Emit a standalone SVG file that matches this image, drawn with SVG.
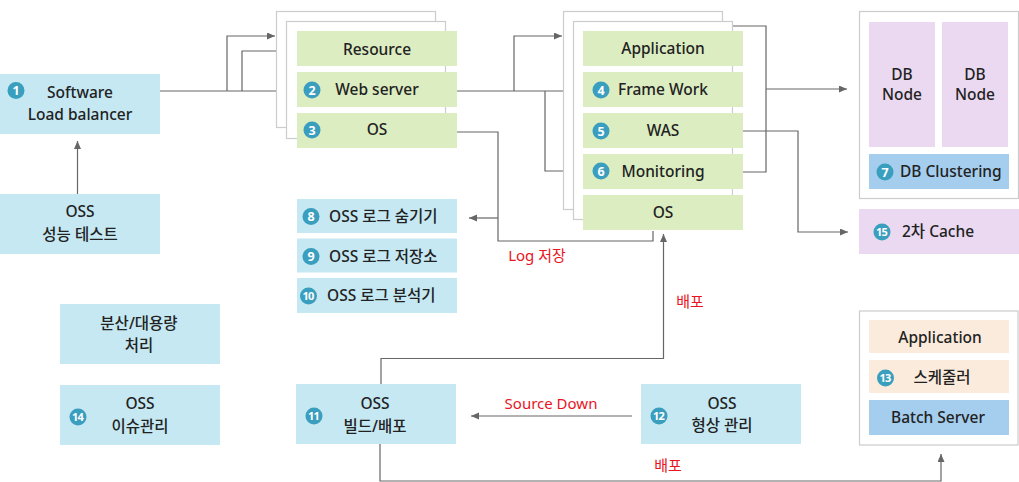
<svg xmlns="http://www.w3.org/2000/svg" width="1019" height="482" viewBox="0 0 1019 482">
<defs>
<marker id="arr" markerUnits="userSpaceOnUse" markerWidth="9" markerHeight="8" refX="8" refY="3.5" orient="auto">
<path d="M0,0 L8,3.5 L0,7 z" fill="#666"/>
</marker>
<style>
.t{font-family:"Noto Sans","Noto Sans CJK KR",sans-serif;font-size:15.5px;font-weight:500;fill:#222;text-anchor:middle}
.s{text-anchor:start}
.r{font-family:"Noto Sans","Noto Sans CJK KR",sans-serif;font-size:15px;fill:#e8141e;text-anchor:middle}
.lb{fill:#c5e8f3}
.gr{fill:#dcedc1}
.pu{fill:#ead9f0}
.be{fill:#fbebdc}
.bl{fill:#a4cdee}
.fr{fill:#fff;stroke:#cccccc;stroke-width:1.2}
.bd{fill:#3a9ebf}
.bn{font-family:"Noto Sans",sans-serif;font-size:12.5px;font-weight:bold;fill:#fff;text-anchor:middle}
.bn2{font-family:"Noto Sans",sans-serif;font-size:11px;font-weight:bold;fill:#fff;text-anchor:middle;letter-spacing:-0.8px}
.c{fill:none;stroke:#666;stroke-width:1.2}
</style>
</defs>

<g id="connectors">
<path class="c" d="M160,91 H296" marker-end="url(#arr)"/>
<path class="c" d="M227,91 V36 H275" marker-end="url(#arr)"/>
<path class="c" d="M242,91 V51 H289" marker-end="url(#arr)"/>
<path class="c" d="M77.5,194 V141" marker-end="url(#arr)"/>
<path class="c" d="M457,91 H581" marker-end="url(#arr)"/>
<path class="c" d="M514,91 V36 H562" marker-end="url(#arr)"/>
<path class="c" d="M545,91 V171 H586" marker-end="url(#arr)"/>
<path class="c" d="M732,26 H766 V172 H743"/>
<path class="c" d="M766,89 H847" marker-end="url(#arr)"/>
<path class="c" d="M743,131 H798 V232 H848" marker-end="url(#arr)"/>
<path class="c" d="M457,132 H498 V241 H653 V231"/>
<path class="c" d="M498,218 H469" marker-end="url(#arr)"/>
<path class="c" d="M381,384 V358.5 H663.5 V234" marker-end="url(#arr)"/>
<path class="c" d="M632,416 H471" marker-end="url(#arr)"/>
<path class="c" d="M380,444 V481 H941 V454" marker-end="url(#arr)"/>
<text class="r" x="537" y="261">Log 저장</text>
<text class="r" x="690" y="307">배포</text>
<text class="r" x="551" y="409">Source Down</text>
<text class="r" x="668" y="471">배포</text>
</g>

<g id="lb">
<rect class="lb" x="0" y="74" width="160" height="60"/>
<circle class="bd" cx="16" cy="90.5" r="8.5"/><text class="bn" x="16" y="95">1</text>
<text class="t" x="80" y="98">Software</text>
<text class="t" x="80" y="120">Load balancer</text>
</g>

<g id="perf">
<rect class="lb" x="0" y="194" width="160" height="60"/>
<text class="t" x="80" y="217">OSS</text>
<text class="t" x="80" y="240">성능 테스트</text>
</g>

<g id="web-stack">
<rect class="fr" x="276.5" y="11.5" width="159" height="116"/>
<rect class="fr" x="286.5" y="21.5" width="159" height="117"/>
</g>
<g id="resource">
<rect class="gr" x="297" y="31" width="160" height="35"/>
<text class="t" x="377" y="55">Resource</text>
</g>
<g id="webserver">
<rect class="gr" x="297" y="72" width="160" height="35"/>
<circle class="bd" cx="312" cy="90" r="8.5"/><text class="bn" x="312" y="94.5">2</text>
<text class="t" x="377" y="95">Web server</text>
</g>
<g id="os-web">
<rect class="gr" x="297" y="113" width="160" height="35"/>
<circle class="bd" cx="312" cy="130" r="8.5"/><text class="bn" x="312" y="134.5">3</text>
<text class="t" x="377" y="135">OS</text>
</g>

<g id="app-stack">
<rect class="fr" x="563.5" y="11.5" width="159" height="198"/>
<rect class="fr" x="573.5" y="21.5" width="159" height="198"/>
</g>
<g id="application">
<rect class="gr" x="583" y="31" width="160" height="35"/>
<text class="t" x="663" y="54">Application</text>
</g>
<g id="framework">
<rect class="gr" x="583" y="72" width="160" height="35"/>
<circle class="bd" cx="601" cy="90" r="8.5"/><text class="bn" x="601" y="94.5">4</text>
<text class="t" x="663" y="95">Frame Work</text>
</g>
<g id="was">
<rect class="gr" x="583" y="113" width="160" height="35"/>
<circle class="bd" cx="601" cy="131" r="8.5"/><text class="bn" x="601" y="135.5">5</text>
<text class="t" x="663" y="136">WAS</text>
</g>
<g id="monitoring">
<rect class="gr" x="583" y="154" width="160" height="35"/>
<circle class="bd" cx="601" cy="171" r="8.5"/><text class="bn" x="601" y="175.5">6</text>
<text class="t" x="663" y="177">Monitoring</text>
</g>
<g id="os-app">
<rect class="gr" x="583" y="195" width="160" height="35"/>
<text class="t" x="663" y="218">OS</text>
</g>

<g id="db">
<rect class="fr" x="859.5" y="11.5" width="159" height="187"/>
<rect class="pu" x="869" y="22" width="66" height="125"/>
<rect class="pu" x="942" y="22" width="66" height="125"/>
<text class="t" x="902" y="80">DB</text>
<text class="t" x="902" y="100">Node</text>
<text class="t" x="975" y="80">DB</text>
<text class="t" x="975" y="100">Node</text>
</g>
<g id="db-clustering">
<rect class="bl" x="869" y="154" width="140" height="35"/>
<circle class="bd" cx="885" cy="172" r="8.5"/><text class="bn" x="885" y="176.5">7</text>
<text class="t s" x="900" y="177">DB Clustering</text>
</g>
<g id="cache">
<rect class="pu" x="859" y="209" width="160" height="45"/>
<circle class="bd" cx="882" cy="232" r="8.5"/><text class="bn2" x="881.6" y="235.9">15</text>
<text class="t s" x="902" y="237">2차 Cache</text>
</g>

<g id="log-hide">
<rect class="lb" x="297" y="199" width="160" height="34"/>
<circle class="bd" cx="311" cy="216.5" r="8.5"/><text class="bn" x="311" y="221">8</text>
<text class="t s" x="329" y="221.5">OSS 로그 숨기기</text>
</g>
<g id="log-store">
<rect class="lb" x="297" y="238.5" width="160" height="34"/>
<circle class="bd" cx="311" cy="256.5" r="8.5"/><text class="bn" x="311" y="261">9</text>
<text class="t s" x="329" y="261.5">OSS 로그 저장소</text>
</g>
<g id="log-analyze">
<rect class="lb" x="297" y="278" width="160" height="35"/>
<circle class="bd" cx="308.5" cy="296" r="8.5"/><text class="bn2" x="308.1" y="299.9">10</text>
<text class="t s" x="327" y="301">OSS 로그 분석기</text>
</g>

<g id="distributed">
<rect class="lb" x="60" y="304" width="160" height="60"/>
<text class="t" x="139" y="329">분산/대용량</text>
<text class="t" x="139" y="351">처리</text>
</g>
<g id="issue">
<rect class="lb" x="60" y="385" width="160" height="60"/>
<circle class="bd" cx="78" cy="417" r="8.5"/><text class="bn2" x="77.6" y="420.9">14</text>
<text class="t" x="140" y="409">OSS</text>
<text class="t" x="140" y="432">이슈관리</text>
</g>
<g id="build">
<rect class="lb" x="296" y="384" width="160" height="60"/>
<circle class="bd" cx="314" cy="416" r="8.5"/><text class="bn2" x="313.6" y="419.9">11</text>
<text class="t" x="375" y="409">OSS</text>
<text class="t" x="375" y="432">빌드/배포</text>
</g>
<g id="scm">
<rect class="lb" x="641" y="384" width="160" height="60"/>
<circle class="bd" cx="659" cy="416" r="8.5"/><text class="bn2" x="658.6" y="419.9">12</text>
<text class="t" x="722" y="409">OSS</text>
<text class="t" x="722" y="431">형상 관리</text>
</g>

<g id="batch">
<rect class="fr" x="859.5" y="311" width="158.5" height="134"/>
<rect class="be" x="869" y="320" width="140" height="33"/>
<text class="t" x="940" y="343">Application</text>
<rect class="be" x="869" y="360" width="140" height="33"/>
<circle class="bd" cx="885.5" cy="378" r="8.5"/><text class="bn2" x="885.1" y="381.9">13</text>
<text class="t" x="942" y="383">스케줄러</text>
<rect class="bl" x="869" y="400" width="140" height="35"/>
<text class="t" x="938" y="423">Batch Server</text>
</g>
</svg>
